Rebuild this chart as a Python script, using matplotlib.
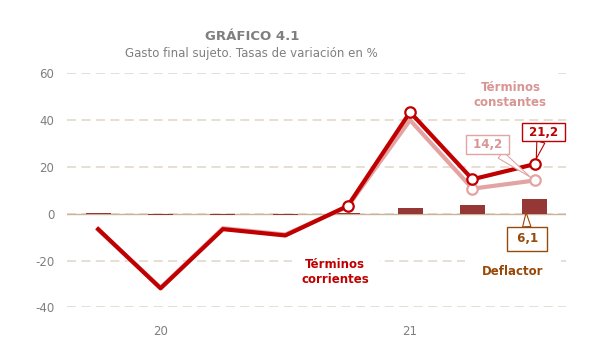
import numpy as np
import matplotlib.pyplot as plt

plt.rcParams["axes.unicode_minus"] = False

# quarterly data, 2020 Q1 .. 2021 Q4
quarters = ["20T1", "20T2", "20T3", "20T4", "21T1", "21T2", "21T3", "21T4"]
tick_labels = ["", "20", "", "", "", "21", "", ""]
corrientes = [-6.6, -31.9, -6.6, -9.3, 3.3, 43.4, 14.7, 21.2]
constantes = [-6.9, -31.6, -6.2, -8.9, 3.0, 40.0, 10.7, 14.2]
deflactor = [0.3, -0.5, -0.4, -0.4, 0.3, 2.4, 3.6, 6.1]

DARK = "#C00000"
PINK = "#E3A3A3"
PINK_TXT = "#D99594"
BAR = "#953735"
BROWN = "#984807"
GRAY = "#7F7F7F"

fig = plt.figure(figsize=(5.94, 3.64), dpi=100)
ax = fig.add_axes([67 / 594, 1 - 307.3 / 364, 499 / 594, 234 / 364])

x = np.arange(len(quarters))
ax.bar(x, deflactor, width=0.4, color=BAR, zorder=3)
ax.plot(x, constantes, color=PINK, lw=3, zorder=4,
        marker="o", markevery=[6, 7], ms=7.5, mfc="white", mec=PINK, mew=1.6)
ax.plot(x, corrientes, color=DARK, lw=3, zorder=5,
        marker="o", markevery=[4, 5, 6, 7], ms=7.5, mfc="white", mec=DARK, mew=1.6)

ax.set_xlim(-0.5, len(quarters) - 0.5)
ax.set_ylim(-40, 60)
ax.set_yticks([-40, -20, 0, 20, 40, 60])
ax.set_xticks(x)
ax.set_xticklabels(tick_labels)
ax.tick_params(length=0, labelsize=8.5, labelcolor=GRAY)
ax.tick_params(axis="x", pad=13)
ax.tick_params(axis="y", pad=9)
for s in ax.spines.values():
    s.set_visible(False)
ax.yaxis.grid(True, color="#E4DCCF", lw=1.3, ls=(0, (5, 3)), zorder=0)
ax.set_axisbelow(True)
ax.axhline(0, color="#C9B49A", lw=1, zorder=2)

# series labels (white box hides the gridline behind)
ax.text(6.61, 50.7, "Términos\nconstantes", color=PINK_TXT, fontsize=8.5,
        fontweight="bold", ha="center", va="center", linespacing=1.15,
        bbox=dict(boxstyle="square,pad=0.75", fc="white", ec="none"), zorder=1)
ax.text(3.8, -25, "Términos\ncorrientes", color=DARK, fontsize=8.5,
        fontweight="bold", ha="center", va="center", linespacing=1.15,
        bbox=dict(boxstyle="square,pad=0.8", fc="white", ec="none"), zorder=1)
ax.text(6.65, -24.7, "Deflactor", color=BROWN, fontsize=8.5,
        fontweight="bold", ha="center", va="center",
        bbox=dict(boxstyle="square,pad=1.5", fc="white", ec="none"), zorder=1)


# data callouts with a wedge pointer
def callout(txt, xy, xytext, col, tcol, pad=0.25, shrink=4):
    ax.annotate(" " + txt + " ", xy=xy, xytext=xytext, ha="center", va="center",
                color=tcol, fontsize=8.5, fontweight="bold", zorder=6,
                bbox=dict(boxstyle="square,pad=%s" % pad, fc="white", ec=col, lw=1),
                arrowprops=dict(arrowstyle="wedge,tail_width=0.7", fc="white",
                                ec=col, lw=0.8, shrinkA=0, shrinkB=shrink))


callout("21,2", (7, corrientes[7]), (7.14, 34.9), DARK, DARK)
callout("14,2", (7, constantes[7]), (6.24, 29.4), PINK, PINK_TXT)
callout("6,1", (6.86, 0.5), (6.88, -10.8), BROWN, BROWN, pad=0.45, shrink=0)

fig.text(252 / 594, 1 - 36 / 364, "GRÁFICO 4.1", ha="center", va="center",
         color=GRAY, fontsize=9.5, fontweight="bold")
fig.text(251 / 594, 1 - 53 / 364, "Gasto final sujeto. Tasas de variación en %",
         ha="center", va="center", color=GRAY, fontsize=8.5)

fig.savefig("out.png", dpi=100)
